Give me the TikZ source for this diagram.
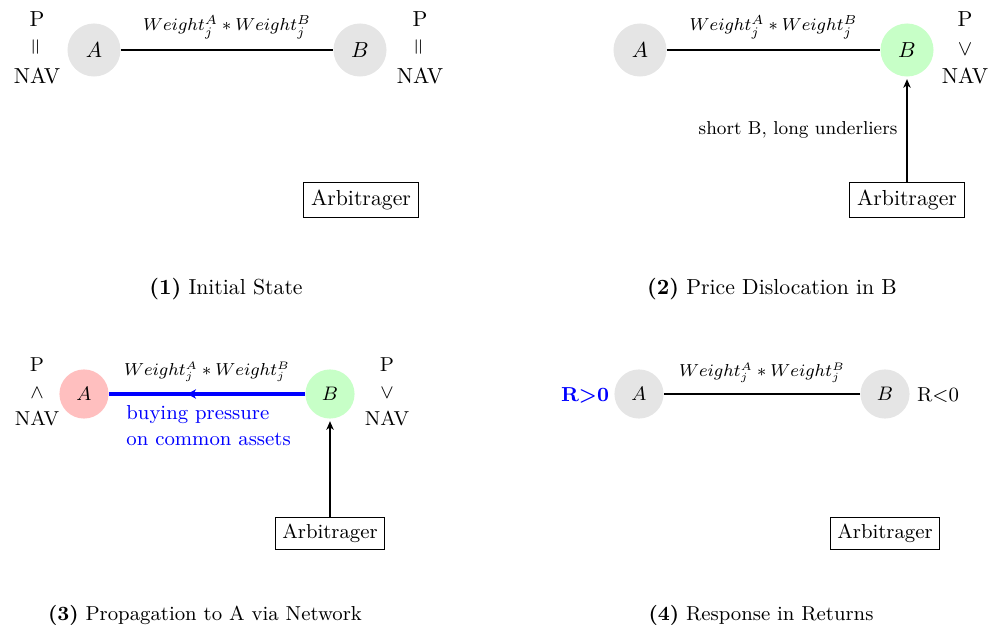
\documentclass[tikz,border=0pt]{standalone}
\usepackage{graphicx}
\usetikzlibrary{decorations.markings, arrows.meta}
\newcommand\bsz{\fontsize{9.3}{11.4}\selectfont}
\tikzset{
  circ/.style={circle, fill=gray!20, minimum size=24.4pt, inner sep=0pt, font=\normalsize},
  circb/.style={circle, fill=gray!20, minimum size=22.6pt, inner sep=0pt, font=\bsz},
  arbbox/.style={draw, inner sep=3.33pt, font=\normalsize},
  arbboxb/.style={draw, inner sep=3.1pt, font=\bsz},
  stack/.style={align=center, font=\normalsize},
  stackb/.style={align=center, font=\bsz},
  wlab/.style={font=\fontsize{8.4}{10}\selectfont},
  wlabb/.style={font=\fontsize{7.7}{9.5}\selectfont},
  captop/.style={font=\normalsize},
  capbot/.style={font=\bsz},
  edgeline/.style={line width=0.6pt},
  arbarrow/.style={-{Stealth[length=4pt, width=3.4pt, inset=1.2pt]}, line width=0.6pt, shorten >=1pt},
}
\begin{document}
\begin{tikzpicture}[x=0.46pt, y=-0.46pt]
\path[use as bounding box] (0,0) rectangle (993,630);

% ---------- Panel 1 ----------
\node[circ] (A1) at (94,50) {$A$};
\node[circ] (B1) at (360,50) {$B$};
\draw[edgeline] (A1) -- node[wlab, above=1.5pt] {$Weight_j^A * Weight_j^B$} (B1);
\node[stack] (L1) at (37,48) {P\\[1pt]\rotatebox{90}{$=$}\\[1pt]NAV};
\node[stack] (R1) at (420,48) {P\\[1pt]\rotatebox{90}{$=$}\\[1pt]NAV};
\node[arbbox] (Arb1) at (361,200) {Arbitrager};
\node[captop] (C1) at (226,289) {\textbf{(1)} Initial State};

% ---------- Panel 2 ----------
\node[circ] (A2) at (640,50) {$A$};
\node[circ, fill=green!22] (B2) at (907,50) {$B$};
\draw[edgeline] (A2) -- node[wlab, above=1.5pt] {$Weight_j^A * Weight_j^B$} (B2);
\node[stack] (R2) at (965,48) {P\\[1pt]$\vee$\\[1pt]NAV};
\node[arbbox] (Arb2) at (907,200) {Arbitrager};
\draw[arbarrow] (Arb2) -- node[pos=0.5, left=0.8pt, font=\fontsize{8.6}{10}\selectfont] {short B, long underliers} (B2);
\node[captop] (C2) at (772,289) {\textbf{(2)} Price Dislocation in B};

% ---------- Panel 3 ----------
\node[circb, fill=red!25] (A3) at (84,394) {$A$};
\node[circb, fill=green!22] (B3) at (330,394) {$B$};
\draw[blue, line width=1.45pt,
  decoration={markings, mark=at position 0.6 with {\arrow{Stealth[length=4pt, width=4.4pt, inset=1.3pt]}}}, postaction={decorate}]
  (B3) -- node[wlabb, black, above=1.5pt] {$Weight_j^A * Weight_j^B$} (A3);
\node[stackb] (L3) at (37,392) {P\\[1pt]$\wedge$\\[1pt]NAV};
\node[stackb] (R3) at (387,392) {P\\[1pt]$\vee$\\[1pt]NAV};
\node[stackb, blue, align=left, anchor=north west, inner sep=0pt] (BP) at (126,405) {buying pressure\\[0.5pt]on common assets};
\node[arbboxb] (Arb3) at (330,533) {Arbitrager};
\draw[arbarrow] (Arb3) -- (B3);
\node[capbot] (C3) at (205,615) {\textbf{(3)} Propagation to A via Network};

% ---------- Panel 4 ----------
\node[circb] (A4) at (639,394) {$A$};
\node[circb] (B4) at (885,394) {$B$};
\draw[edgeline] (A4) -- node[wlabb, above=1.5pt] {$Weight_j^A * Weight_j^B$} (B4);
\node[font=\bsz\bfseries, text=blue] (RA) at (585,395) {R>0};
\node[font=\bsz] (RB) at (938,395) {R<0};
\node[arbboxb] (Arb4) at (885,533) {Arbitrager};
\node[capbot] (C4) at (761,615) {\textbf{(4)} Response in Returns};
\end{tikzpicture}
\end{document}
